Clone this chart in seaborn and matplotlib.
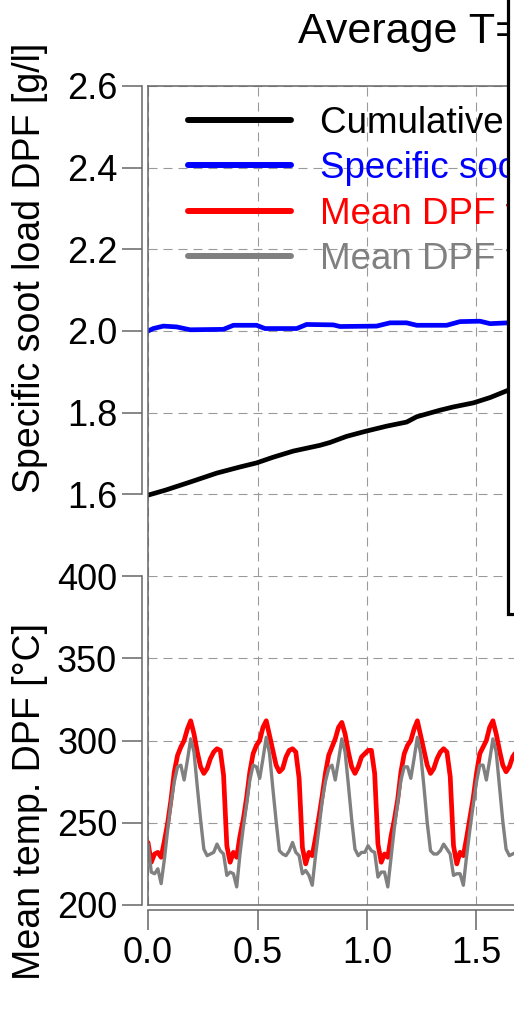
import matplotlib
matplotlib.use('Agg')
import matplotlib.pyplot as plt
from matplotlib.lines import Line2D
from matplotlib.patches import Rectangle
from matplotlib.ticker import FormatStrFormatter
import seaborn as sns
import numpy as np
import pandas as pd

# --- data ---
# cumulative soot load (black)
cum_time = [0.0, 0.078, 0.192, 0.314, 0.42, 0.496, 0.572, 0.664, 0.785, 0.831,
            0.907, 0.998, 1.090, 1.181, 1.227, 1.333, 1.394, 1.486, 1.562, 1.645, 1.70]
cum_soot = [1.598, 1.610, 1.630, 1.652, 1.667, 1.677, 1.691, 1.706, 1.720, 1.727,
            1.742, 1.755, 1.767, 1.777, 1.790, 1.806, 1.814, 1.824, 1.837, 1.855, 1.864]

# specific soot load (blue)
spec_time = [0.0, 0.024, 0.07, 0.131, 0.192, 0.344, 0.39, 0.496, 0.534, 0.679, 0.724,
             0.846, 0.877, 1.044, 1.105, 1.181, 1.227, 1.364, 1.425, 1.516, 1.562, 1.645, 1.70]
spec_soot = [2.000, 2.006, 2.012, 2.010, 2.003, 2.004, 2.014, 2.014, 2.006, 2.006, 2.016,
             2.015, 2.011, 2.012, 2.020, 2.020, 2.014, 2.014, 2.023, 2.024, 2.018, 2.020, 2.020]

# mean DPF temperature, sampled every 0.015
temp_time = np.round(np.arange(115) * 0.015, 3)
temp_red = [
    238, 226, 231, 232, 229, 239, 250, 264, 281, 291, 296, 300, 307, 312, 304, 293, 284, 280, 283, 289, 293, 295, 294,
    279, 236, 226, 232, 229, 242, 252, 265, 281, 292, 297, 300, 308, 312, 303, 294, 285, 281, 283, 290, 294, 295, 293,
    277, 235, 225, 232, 230, 241, 253, 266, 280, 291, 296, 301, 308, 311, 304, 293, 284, 280, 284, 290, 292, 294, 294,
    280, 237, 226, 231, 229, 242, 252, 264, 281, 292, 297, 300, 307, 312, 303, 294, 285, 280, 283, 289, 293, 295, 293,
    278, 236, 225, 232, 230, 241, 253, 265, 280, 292, 296, 300, 308, 312, 304, 294, 285, 281, 284, 290, 293, 295, 294,
]
temp_gray = [
    237, 220, 219, 222, 213, 228, 246, 262, 275, 284, 285, 276, 288, 301, 293, 272, 252, 234, 230, 231, 232, 237, 233,
    231, 218, 220, 219, 211, 231, 247, 261, 276, 285, 284, 277, 289, 302, 292, 271, 251, 233, 231, 230, 233, 238, 232,
    230, 219, 221, 218, 212, 230, 246, 263, 275, 283, 285, 276, 288, 301, 293, 273, 252, 234, 230, 232, 232, 236, 233,
    232, 217, 220, 220, 211, 229, 247, 262, 276, 284, 284, 277, 289, 302, 292, 272, 250, 233, 231, 231, 233, 237, 234,
    231, 218, 219, 219, 212, 230, 246, 261, 275, 285, 285, 276, 288, 301, 293, 272, 251, 234, 230, 231, 232, 237, 233,
]

soot_ticks = [1.6, 1.8, 2.0, 2.2, 2.4, 2.6]
temp_ticks = [200, 250, 300, 350, 400]
time_ticks = [0.0, 0.5, 1.0, 1.5, 2.0, 2.5, 3.0]

series_labels = ['Cumulative soot load', 'Specific soot load',
                 'Mean DPF temp. (sim.)', 'Mean DPF temp. (meas.)']
series_colors = ['black', '#0000ff', '#ff0000', '#808080']

# --- style ---
sns.set_style('white')
plt.rcParams['font.family'] = ['Liberation Sans', 'DejaVu Sans']
plt.rcParams['axes.unicode_minus'] = False
plt.rcParams['text.color'] = 'black'
plt.rcParams['xtick.labelcolor'] = 'black'
plt.rcParams['ytick.labelcolor'] = 'black'

W, H = 514, 1014
fig = plt.figure(figsize=(W / 100, H / 100), dpi=100, facecolor='white')


def px_box(left, top, width, height):
    return [left / W, 1 - (top + height) / H, width / W, height / H]


spine_col = '#666666'
grid_kw = dict(color='#9a9a9a', lw=0.8, linestyle=(0, (8.1, 5.4)))
tick_fs = 26

x_left = 148
x_width = 657   # 0..3 on the time axis
y_top, y_mid, y_bot = 86, 576, 905

ax_top = fig.add_axes(px_box(x_left, y_top, x_width, y_mid - y_top))
ax_bot = fig.add_axes(px_box(x_left, y_mid, x_width, y_bot - y_mid))
frame = fig.add_axes(px_box(x_left, y_top, x_width, y_bot - y_top))

for ax in (ax_top, ax_bot):
    ax.set_facecolor('none')
    ax.set_xlim(0, 3)
    ax.set_xticks(time_ticks)
    ax.set_axisbelow(True)
    ax.grid(True, **grid_kw)
    for s in ax.spines.values():
        s.set_visible(False)
    ax.spines['left'].set_visible(True)
    ax.spines['left'].set_position(('outward', 4.3))
    ax.spines['left'].set_color(spine_col)
    ax.spines['left'].set_linewidth(1.1)
    ax.tick_params(axis='y', direction='out', length=14.4, width=1.1, color=spine_col,
                   labelsize=tick_fs, labelcolor='black', pad=3.5, left=True)

# soot panel
sns.lineplot(x=cum_time, y=cum_soot, ax=ax_top, color=series_colors[0], lw=3.4,
             estimator=None, sort=False)
sns.lineplot(x=spec_time, y=spec_soot, ax=ax_top, color=series_colors[1], lw=3.4,
             estimator=None, sort=False)
ax_top.set_ylim(1.4, 2.6)
ax_top.set_yticks(soot_ticks)
ax_top.yaxis.set_major_formatter(FormatStrFormatter('%.1f'))
ax_top.spines['left'].set_bounds(1.6, 2.6)
ax_top.tick_params(axis='x', length=0, labelbottom=False)

# temperature panel
temp_df = pd.DataFrame({'time': temp_time, 'red': temp_red, 'gray': temp_gray})
sns.lineplot(data=temp_df, x='time', y='red', ax=ax_bot, color=series_colors[2], lw=3.4,
             estimator=None, sort=False)
sns.lineplot(data=temp_df, x='time', y='gray', ax=ax_bot, color=series_colors[3], lw=2.4,
             estimator=None, sort=False)
ax_bot.set_ylim(200, 400)
ax_bot.set_yticks(temp_ticks)
ax_bot.spines['left'].set_bounds(200, 400)
ax_bot.spines['bottom'].set_visible(True)
ax_bot.spines['bottom'].set_position(('outward', 3.6))
ax_bot.spines['bottom'].set_bounds(0, 3)
ax_bot.spines['bottom'].set_color(spine_col)
ax_bot.spines['bottom'].set_linewidth(1.1)
ax_bot.xaxis.set_major_formatter(FormatStrFormatter('%.1f'))
ax_bot.tick_params(axis='x', direction='out', length=14.4, width=1.1, color=spine_col,
                   labelsize=tick_fs, labelcolor='black', pad=4, bottom=True)

for ax in (ax_top, ax_bot):
    ax.set_xlabel('')
    ax.set_ylabel('')

# frame box over the whole plotting region
frame.set_facecolor('none')
frame.set_zorder(3)
frame.set_xticks([])
frame.set_yticks([])
for s in frame.spines.values():
    s.set_color(spine_col)
    s.set_linewidth(1.1)

# legend
handles = [Line2D([0], [0], color=c, lw=4.3) for c in series_colors]
leg = ax_top.legend(handles, series_labels, loc='upper left',
                    bbox_to_anchor=(188 / W, 1 - 106 / H), bbox_transform=fig.transFigure,
                    frameon=False, fontsize=26.5, handlelength=2.8, handletextpad=0.79,
                    labelspacing=0.28, borderpad=0, borderaxespad=0,
                    labelcolor='linecolor')

# axis titles
fig.text(30 / W, 1 - 268 / H, 'Specific soot load DPF [g/l]', rotation=90,
         ha='center', va='center', fontsize=27, color='black')
fig.text(30 / W, 1 - 801 / H, 'Mean temp. DPF [°C]', rotation=90,
         ha='center', va='center', fontsize=27, color='black')

fig.text(298 / W, 1 - 43 / H, 'Average T=250 °C', ha='left', va='baseline',
         fontsize=31, color='black')

# neighbouring panel border that covers the right side
fig.add_artist(Rectangle((508 / W, 1 - 614 / H), 0.5, 0.7, transform=fig.transFigure,
                         facecolor='white', edgecolor='black', lw=2.3, zorder=10))

fig.savefig('out.png', dpi=100, facecolor='white')
